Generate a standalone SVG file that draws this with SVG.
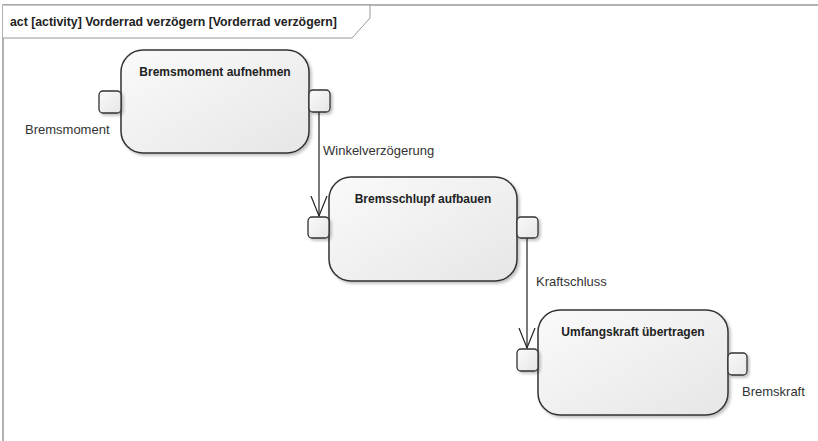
<svg xmlns="http://www.w3.org/2000/svg" width="818" height="441" viewBox="0 0 818 441">
<defs>
<linearGradient id="g" x1="0" y1="0" x2="1" y2="1">
<stop offset="0" stop-color="#fafafa"/>
<stop offset="1" stop-color="#e6e6e6"/>
</linearGradient>
<filter id="sh" x="-10%" y="-10%" width="130%" height="130%">
<feGaussianBlur in="SourceAlpha" stdDeviation="1.5"/>
<feOffset dx="2" dy="2" result="b"/>
<feComponentTransfer><feFuncA type="linear" slope="0.25"/></feComponentTransfer>
<feMerge><feMergeNode/><feMergeNode in="SourceGraphic"/></feMerge>
</filter>
<marker id="arr" markerWidth="22" markerHeight="20" refX="20" refY="10" orient="auto" markerUnits="userSpaceOnUse" viewBox="0 0 22 20">
<path d="M0,2 L20,10 L0,18" fill="none" stroke="#222" stroke-width="1.2"/>
</marker>
</defs>
<style>
.act{fill:url(#g);stroke:#333;stroke-width:1.5;filter:url(#sh)}
.pin{fill:url(#g);stroke:#333;stroke-width:1.3;filter:url(#sh)}
.t{font-family:"Liberation Sans",Arial,sans-serif;font-size:13px;fill:#333}
.tb{font-family:"Liberation Sans",Arial,sans-serif;font-size:12px;font-weight:bold;fill:#222}
.c{fill:none;stroke:#222;stroke-width:1.2}
.frame{fill:none;stroke:#999;stroke-width:1.5}
</style>
<rect width="818" height="441" fill="#fff"/>
<g id="frame">
<path class="frame" d="M3,445 L3,5 L822,5"/>
<path d="M3,5 L370,5 L370,18 L352,38 L3,38" fill="#fff" stroke="#999" stroke-width="1"/>
<text class="tb" x="10" y="26" style="font-size:12.3px">act [activity] Vorderrad verzögern [Vorderrad verzögern]</text>
</g>
<g id="connectors">
<path class="c" d="M319,112 L319,216" marker-end="url(#arr)"/>
<path class="c" d="M527,237 L527,348" marker-end="url(#arr)"/>
<text class="t" x="323" y="155">Winkelverzögerung</text>
<text class="t" x="536" y="286">Kraftschluss</text>
</g>
<g id="node1">
<rect class="act" x="121" y="50" width="188" height="103" rx="22"/>
<rect class="pin" x="99" y="91" width="22" height="22" rx="4"/>
<rect class="pin" x="309" y="90" width="21" height="22" rx="4"/>
<text class="tb" x="215" y="76" text-anchor="middle">Bremsmoment aufnehmen</text>
<text class="t" x="25" y="134">Bremsmoment</text>
</g>
<g id="node2">
<rect class="act" x="329" y="177" width="188" height="104" rx="22"/>
<rect class="pin" x="308" y="217" width="21" height="21" rx="4"/>
<rect class="pin" x="517" y="217" width="21" height="21" rx="4"/>
<text class="tb" x="423" y="203" text-anchor="middle">Bremsschlupf aufbauen</text>
</g>
<g id="node3">
<rect class="act" x="538" y="310" width="190" height="105" rx="22"/>
<rect class="pin" x="517" y="349" width="21" height="22" rx="4"/>
<rect class="pin" x="728" y="353" width="19" height="22" rx="4"/>
<text class="tb" x="633" y="336" text-anchor="middle">Umfangskraft übertragen</text>
<text class="t" x="742" y="396">Bremskraft</text>
</g>
</svg>
